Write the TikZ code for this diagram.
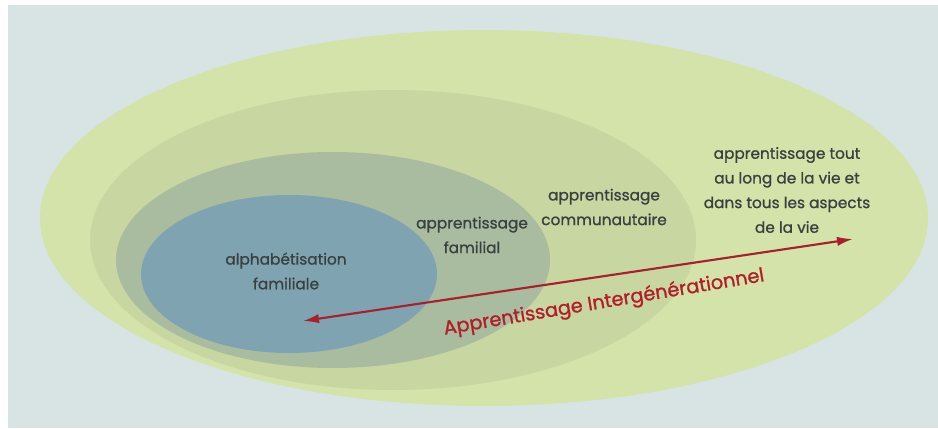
\documentclass[tikz,border=0pt]{standalone}
\usepackage{fontspec}
\setmainfont{Poppins}
\newfontfamily\epais{Poppins}[FakeBold=1.0]
\usetikzlibrary{arrows.meta}

\definecolor{fond}{HTML}{D8E3E3}
\definecolor{vie}{HTML}{D4E3A9}
\definecolor{commu}{HTML}{C8D6A2}
\definecolor{famil}{HTML}{A9BCA0}
\definecolor{alpha}{HTML}{80A3B2}
\definecolor{encre}{HTML}{384140}
\definecolor{rouge}{HTML}{A8202E}

\tikzset{
  etiquette/.style={text=encre, align=center, inner sep=0pt,
    font=\epais\fontsize{11.5}{18.5}\selectfont},
  fleche/.style={rouge, line width=1.6pt, {Latex[length=12pt,width=7pt]}-{Latex[length=12pt,width=7pt]}},
  titre/.style={text=rouge!90!red, inner sep=0pt, font=\epais\fontsize{14.5}{16}\selectfont}
}

\begin{document}
\begin{tikzpicture}[x=0.75pt, y=-0.75pt]
  \useasboundingbox (0,0) rectangle (938,428);
  \fill[white] (0,0) rectangle (938,428);
  \fill[fond] (8,5) rectangle (938,428);

  % ellipses, from the outside in
  \fill[vie] (484,218) ellipse [x radius=444, y radius=188];
  \fill[commu] (393,240) ellipse [x radius=303, y radius=150];
  \fill[famil] (333,260) ellipse [x radius=217, y radius=108];
  \fill[alpha] (289,274) ellipse [x radius=148, y radius=79];

  \node[etiquette] (alphab) at (286,271) {alphabétisation\\familiale};
  \node[etiquette] (familial) at (472,235) {apprentissage\\familial};
  \node[etiquette] (communaut) at (604,207) {apprentissage\\communautaire};
  \node[etiquette] (toutevie) at (787,190)
    {apprentissage tout\\au long de la vie et\\dans tous les aspects\\de la vie};

  \coordinate (gauche) at (303,321);
  \coordinate (droite) at (853,239);
  \draw[fleche] (gauche) -- (droite);
  \node[titre, rotate=9.5] (inter) at (604,303) {Apprentissage Intergénérationnel};
\end{tikzpicture}
\end{document}
